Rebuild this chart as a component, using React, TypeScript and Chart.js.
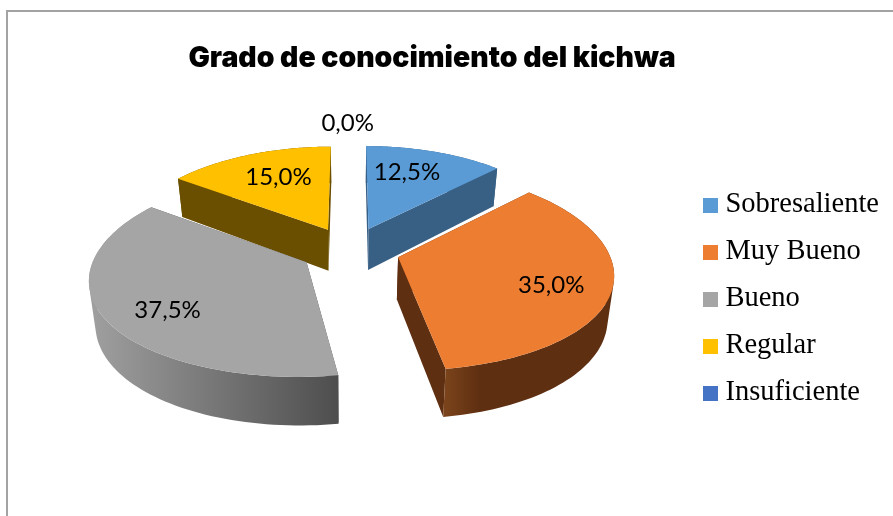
import React, { useEffect, useRef } from "react";
import { Chart, registerables } from "chart.js";

Chart.register(...registerables);

const titleText = "Grado de conocimiento del kichwa";
const categories = ["Sobresaliente", "Muy Bueno", "Bueno", "Regular", "Insuficiente"];
const shares = [12.5, 35.0, 37.5, 15.0, 0.0];
const topColors = ["#5b9bd5", "#ed7d31", "#a5a5a5", "#ffc000", "#4472c4"];

// [wall colour near the left of the slice, wall colour near the right]
const sideColors: [string, string][] = [
  ["#385f84", "#385f84"],
  ["#7a431b", "#5f2f11"],
  ["#a0a0a0", "#4e4e4e"],
  ["#6b4f00", "#6b4f00"],
  ["#2f5597", "#2f5597"],
];
const paintOrder = [3, 0, 4, 2, 1];
const labelDistance = [195, 204, 206, 190, 322];
const labelAngleShift = [-3.2, 2.7, -4.5, 2, -0.5];

const W = 893;
const H = 516;
const CX = 350;
const CY = 250;
const R = 210;
const TILT = 0.465;
const KX = 0.15;
const KY = 0.12;
const DEPTH = 42;
const SHRINK = 0.025;
const EXPLODE = 50;

type Pt = [number, number];

const sx = (v: number) => 1 / (1 - (KX * v) / R);
const sy = (v: number) => 1 / (1 - (KY * v) / R);
const project = (u: number, v: number, drop = 0): Pt => [
  CX + u * sx(v) * (1 - SHRINK * drop),
  CY + v * TILT * sy(v) + drop * DEPTH * sy(v),
];

function addPoly(ctx: CanvasRenderingContext2D, pts: Pt[]) {
  pts.forEach((p, i) => (i ? ctx.lineTo(p[0], p[1]) : ctx.moveTo(p[0], p[1])));
  ctx.closePath();
}

function pathOf(ctx: CanvasRenderingContext2D, pts: Pt[]) {
  ctx.beginPath();
  addPoly(ctx, pts);
}

function signedArea(pts: Pt[]) {
  let s = 0;
  pts.forEach((p, i) => {
    const q = pts[(i + 1) % pts.length];
    s += p[0] * q[1] - q[0] * p[1];
  });
  return s;
}

const pie3d = {
  id: "pie3d",
  beforeDraw(chart: any) {
    const c = chart.ctx;
    c.save();
    c.fillStyle = "#a3a3a3";
    c.fillRect(6, 10, W - 6, 2);
    c.fillRect(6, 10, 2, H - 10);
    c.restore();
  },
  afterLayout(chart: any) {
    chart.titleBlock.left = 0;
    chart.titleBlock.right = 864;
    chart.legend.top += 55;
    chart.legend.bottom += 55;
  },
  beforeDatasetDraw(chart: any) {
    const c: CanvasRenderingContext2D = chart.ctx;
    const arcs = chart.getDatasetMeta(0).data;
    paintOrder.forEach((i) => {
      const arc = arcs[i];
      const a0 = arc.startAngle + Math.PI / 2;
      const a1 = arc.endAngle + Math.PI / 2;
      if (a1 - a0 < 1e-4) return;
      const mid = (a0 + a1) / 2;
      const off = arc.options.offset;
      const ox = off * Math.sin(mid);
      const oy = -off * Math.cos(mid);
      const rim: Pt[] = [];
      const n = 80;
      for (let k = 0; k <= n; k++) {
        const t = a0 + ((a1 - a0) * k) / n;
        rim.push([ox + R * Math.sin(t), oy - R * Math.cos(t)]);
      }
      const p0 = rim[0];
      const p1 = rim[n];
      const xs = rim.map((p) => project(p[0], p[1])[0]);
      const g = c.createLinearGradient(Math.min(...xs), 0, Math.max(...xs), 0);
      g.addColorStop(0, sideColors[i][0]);
      if (i === 1) g.addColorStop(0.2, sideColors[i][1]);
      g.addColorStop(1, sideColors[i][1]);
      // cut faces
      c.fillStyle = sideColors[i][1];
      [p0, p1].forEach((p) => {
        pathOf(c, [
          project(ox, oy),
          project(p[0], p[1]),
          project(p[0], p[1], 1),
          project(ox, oy, 1),
        ]);
        c.fill();
      });
      // outer wall: one path of same-wound quads, so the sweep fills without seams
      c.fillStyle = g;
      c.beginPath();
      for (let k = 0; k < n; k++) {
        const a = rim[k];
        const b = rim[k + 1];
        const quad: Pt[] = [
          project(a[0], a[1]),
          project(b[0], b[1]),
          project(b[0], b[1], 1),
          project(a[0], a[1], 1),
        ];
        addPoly(c, signedArea(quad) < 0 ? quad.reverse() : quad);
      }
      c.fill("nonzero");
      // top face
      c.fillStyle = arc.options.backgroundColor;
      pathOf(c, [project(ox, oy), ...rim.map((p) => project(p[0], p[1]))]);
      c.fill();
    });
    return false;
  },
  afterDatasetsDraw(chart: any) {
    const c: CanvasRenderingContext2D = chart.ctx;
    const arcs = chart.getDatasetMeta(0).data;
    const values: number[] = chart.data.datasets[0].data;
    const total = values.reduce((a, b) => a + b, 0);
    c.save();
    c.font = '24px Lato, "Open Sans", sans-serif';
    c.fillStyle = "#000000";
    c.textAlign = "center";
    c.textBaseline = "middle";
    arcs.forEach((arc: any, i: number) => {
      const mid = (arc.startAngle + arc.endAngle) / 2 + Math.PI / 2 + (labelAngleShift[i] * Math.PI) / 180;
      const [x, y] = project(labelDistance[i] * Math.sin(mid), -labelDistance[i] * Math.cos(mid));
      const text = ((values[i] / total) * 100).toFixed(1).replace(".", ",") + "%";
      c.fillText(text, x, y);
    });
    c.restore();
  },
};

function swatch(color: string) {
  const s = document.createElement("canvas");
  s.width = 15;
  s.height = 15;
  const x = s.getContext("2d")!;
  x.fillStyle = color;
  x.fillRect(0, 0, 15, 15);
  return s;
}

export default function App() {
  const ref = useRef<HTMLCanvasElement>(null);
  useEffect(() => {
    const chart = new Chart(ref.current!, {
      type: "pie",
      data: {
        labels: categories,
        datasets: [
          {
            data: shares,
            backgroundColor: topColors,
            borderWidth: 0,
            offset: EXPLODE,
          },
        ],
      },
      options: {
        responsive: false,
        animation: false,
        devicePixelRatio: 1,
        layout: { padding: { right: 4, bottom: 28 } },
        plugins: {
          tooltip: { enabled: false },
          title: {
            display: true,
            text: titleText,
            color: "#000000",
            font: { family: "Inter, Lato, sans-serif", size: 28.4, weight: "900" },
            padding: { top: 41, bottom: 17 },
          },
          legend: {
            display: true,
            position: "right",
            labels: {
              color: "#000000",
              font: { family: '"Liberation Serif", serif', size: 28.5 },
              usePointStyle: true,
              pointStyleWidth: 1,
              boxHeight: 15,
              padding: 18.5,
              generateLabels(c: any) {
                const base = (Chart as any).overrides.pie.plugins.legend.labels.generateLabels(c);
                return base.map((it: any, i: number) => ({ ...it, pointStyle: swatch(topColors[i]), hidden: false }));
              },
            },
          },
        },
      } as any,
      plugins: [pie3d as any],
    });
    return () => chart.destroy();
  }, []);
  return (
    <div style={{ position: "fixed", left: 0, top: 0, width: W, height: H, background: "#fff" }}>
      <canvas ref={ref} width={W} height={H} style={{ display: "block" }} />
    </div>
  );
}
